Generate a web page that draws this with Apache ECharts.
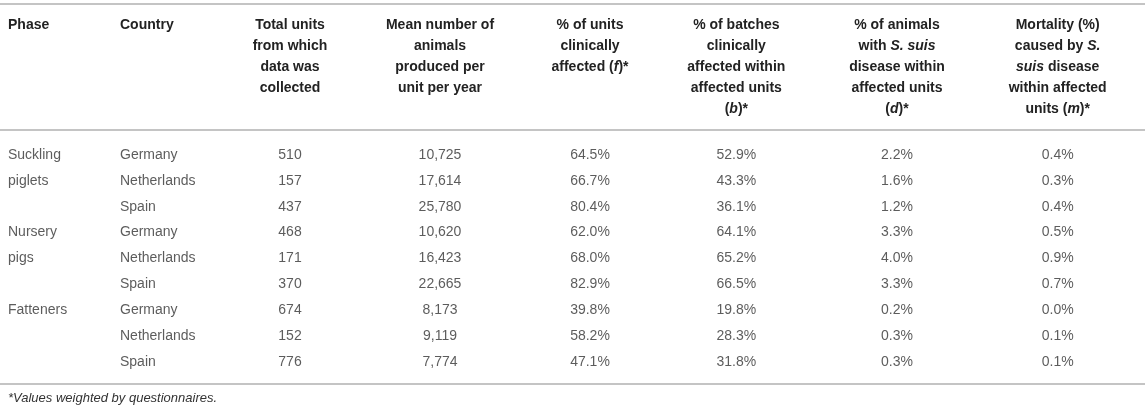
<!DOCTYPE html>
<html>
<head>
<meta charset="utf-8">
<script src="https://cdn.jsdelivr.net/npm/echarts@6/dist/echarts.min.js"></script>
<style>
  html, body { margin: 0; padding: 0; background: #fff; }
  #main { width: 1145px; height: 412px; }
</style>
</head>
<body>
<div id="main"></div>
<script>
var phases = ['Suckling piglets', 'Nursery pigs', 'Fatteners'];
var countries = ['Germany', 'Netherlands', 'Spain'];

var headers = [
  'Phase',
  'Country',
  'Total units\nfrom which\ndata was\ncollected',
  'Mean number of\nanimals\nproduced per\nunit per year',
  '% of units\nclinically\naffected ({i|f})*',
  '% of batches\nclinically\naffected within\naffected units\n({i|b})*',
  '% of animals\nwith {i|S. suis}\ndisease within\naffected units\n({i|d})*',
  'Mortality (%)\ncaused by {i|S.}\n{i|suis} disease\nwithin affected\nunits ({i|m})*'
];

var totalUnits = [510, 157, 437, 468, 171, 370, 674, 152, 776];
var meanAnimals = [10725, 17614, 25780, 10620, 16423, 22665, 8173, 9119, 7774];
var unitsAffected = [64.5, 66.7, 80.4, 62.0, 68.0, 82.9, 39.8, 58.2, 47.1];
var batchesAffected = [52.9, 43.3, 36.1, 64.1, 65.2, 66.5, 19.8, 28.3, 31.8];
var animalsDisease = [2.2, 1.6, 1.2, 3.3, 4.0, 3.3, 0.2, 0.3, 0.3];
var mortality = [0.4, 0.3, 0.4, 0.5, 0.9, 0.7, 0.0, 0.1, 0.1];

var footnote = '*Values weighted by questionnaires.';

var chartDom = document.getElementById('main');
var myChart = echarts.init(chartDom);
var option;

var FONT = '"Liberation Sans", Arial, Helvetica, sans-serif';
var TXT = '#333';
var RULE = '#c4c4c4';

// row keys: phase x country
var rows = [];
phases.forEach(function (p) {
  countries.forEach(function (c) {
    rows.push(p + ' / ' + c);
  });
});

var numData = [totalUnits, meanAnimals, unitsAffected, batchesAffected, animalsDisease, mortality];

function fmt(col, v) {
  if (col < 2) return v.toLocaleString('en-US');
  return v.toFixed(1) + '%';
}

var baseLabel = {
  show: true,
  position: 'inside',
  color: TXT,
  fontFamily: FONT,
  fontSize: 14
};

var series = [];

// phase column (only first row of each group)
series.push({
  type: 'scatter',
  xAxisIndex: 0,
  yAxisIndex: 0,
  symbolSize: 0,
  silent: true,
  data: phases.map(function (p, i) {
    return { value: [headers[0], i * countries.length], name: p };
  }),
  label: Object.assign({}, baseLabel, {
    align: 'left',
    verticalAlign: 'top',
    lineHeight: 26,
    offset: [0, -13],
    width: 70,
    overflow: 'break',
    formatter: function (p) { return p.name; }
  })
});

// country column
series.push({
  type: 'scatter',
  xAxisIndex: 0,
  yAxisIndex: 0,
  symbolSize: 0,
  silent: true,
  data: rows.map(function (r, i) {
    return { value: [headers[1], i], name: countries[i % countries.length] };
  }),
  label: Object.assign({}, baseLabel, {
    align: 'left',
    formatter: function (p) { return p.name; }
  })
});

// numeric columns: first three in grid 1, last three in grid 2
numData.forEach(function (arr, col) {
  var g = col < 3 ? 1 : 2;
  series.push({
    type: 'scatter',
    xAxisIndex: g,
    yAxisIndex: g,
    symbolSize: 0,
    silent: true,
    data: arr.map(function (v, i) { return [headers[col + 2], i, v]; }),
    label: Object.assign({}, baseLabel, {
      align: 'center',
      formatter: function (p) { return fmt(col, p.value[2]); }
    })
  });
});

var headLabel = {
  show: true,
  interval: 0,
  color: '#222',
  fontFamily: FONT,
  fontSize: 14,
  fontWeight: 'bold',
  lineHeight: 21,
  verticalAlign: 'top',
  margin: 127,
  rich: {
    i: { fontStyle: 'italic', fontWeight: 'bold', fontSize: 14, lineHeight: 21, color: '#222', fontFamily: FONT }
  }
};

function headAxis(gridIndex, cats, extra) {
  return Object.assign({
    gridIndex: gridIndex,
    type: 'category',
    position: 'top',
    data: cats,
    axisLine: { show: false },
    axisTick: { show: false },
    splitLine: { show: false },
    axisLabel: Object.assign({}, headLabel, { align: 'center' })
  }, extra || {});
}

function rowAxis(gridIndex) {
  return { gridIndex: gridIndex, type: 'category', data: rows, inverse: true, show: false };
}

option = {
  animation: false,
  title: {
    text: footnote,
    left: 8,
    top: 392,
    padding: 0,
    textStyle: { fontFamily: FONT, fontSize: 13, fontStyle: 'italic', fontWeight: 'normal', color: TXT }
  },
  grid: [
    { left: 8, width: 112, top: 142, bottom: 37 },
    { left: 215, width: 450, top: 142, bottom: 37 },
    { left: 656, width: 482, top: 142, bottom: 37 }
  ],
  xAxis: [
    headAxis(0, headers.slice(0, 2), {
      boundaryGap: false,
      axisLabel: Object.assign({}, headLabel, { align: 'left' })
    }),
    headAxis(1, headers.slice(2, 5)),
    headAxis(2, headers.slice(5))
  ],
  yAxis: [rowAxis(0), rowAxis(1), rowAxis(2)],
  graphic: [
    { type: 'line', shape: { x1: 0, y1: 4, x2: 1145, y2: 4 }, style: { stroke: RULE, lineWidth: 2 } },
    { type: 'line', shape: { x1: 0, y1: 130, x2: 1145, y2: 130 }, style: { stroke: RULE, lineWidth: 2 } },
    { type: 'line', shape: { x1: 0, y1: 384, x2: 1145, y2: 384 }, style: { stroke: RULE, lineWidth: 2 } }
  ],
  series: series
};

option && myChart.setOption(option);
</script>
</body>
</html>
